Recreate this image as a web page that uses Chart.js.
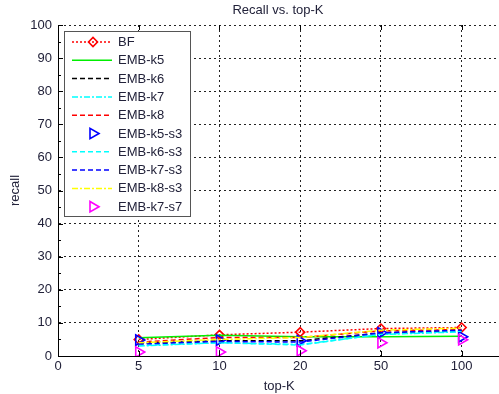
<!DOCTYPE html>
<html>
<head>
<meta charset="utf-8">
<script src="https://cdn.jsdelivr.net/npm/chart.js@4.4.1/dist/chart.umd.min.js"></script>
<style>
  html, body { margin: 0; padding: 0; background: #fff; overflow: hidden; }
  #wrap { width: 499px; height: 394px; overflow: hidden; }
</style>
</head>
<body>
<div id="wrap"><canvas id="c" width="508" height="394"></canvas></div>
<script>
// top-K values placed at evenly spaced positions 0..5
const topK = ['0', '5', '10', '20', '50', '100'];
const yTicks = [0, 10, 20, 30, 40, 50, 60, 70, 80, 90, 100];

// recall (%) at top-K = 5, 10, 20, 50, 100
const bf       = [5.0, 6.4, 7.2, 8.3, 8.6];
const embK5    = [5.5, 6.3, 5.8, 5.8, 6.0];
const embK6    = [3.8, 4.6, 4.6, 7.0, 7.7];
const embK7    = [3.0, 4.0, 3.5, 6.5, 7.3];
const embK8    = [4.2, 5.6, 5.6, 7.6, 8.0];
const embK5s3  = [4.8, 4.8, 4.6, 7.0, 5.8];
const embK6s3  = [3.2, 4.0, 3.3, 6.6, 7.5];
const embK7s3  = [3.6, 4.4, 4.2, 7.0, 7.8];
const embK8s3  = [4.0, 5.0, 5.6, 7.8, 8.4];
const embK7s7  = [1.2, 1.2, 1.6, 4.0, 4.9];

const seriesNames = ['BF', 'EMB-k5', 'EMB-k6', 'EMB-k7', 'EMB-k8',
  'EMB-k5-s3', 'EMB-k6-s3', 'EMB-k7-s3', 'EMB-k8-s3', 'EMB-k7-s7'];
const seriesValues = [bf, embK5, embK6, embK7, embK8, embK5s3, embK6s3, embK7s3, embK8s3, embK7s7];

const styles = [
  { color: '#ff0000', dash: [2, 2], marker: 'rectRot', line: true },
  { color: '#00ee00', dash: [], marker: false, line: true },
  { color: '#000000', dash: [5, 3], marker: false, line: true },
  { color: '#00ffff', dash: [6, 2, 2, 2], marker: false, line: true },
  { color: '#ff0000', dash: [5, 3], marker: false, line: true },
  { color: '#0000ff', dash: [], marker: 'triangle', line: false },
  { color: '#00ffff', dash: [5, 3], marker: false, line: true },
  { color: '#0000ff', dash: [5, 3], marker: false, line: true },
  { color: '#ffff00', dash: [6, 2, 2, 2], marker: false, line: true },
  { color: '#ff00ff', dash: [], marker: 'triangle', line: false }
];

const n = seriesNames.length;
const datasets = seriesNames.map((name, i) => {
  const s = styles[i];
  return {
    label: name,
    data: seriesValues[i].map((v, j) => ({ x: j + 1, y: v })),
    borderColor: s.color,
    backgroundColor: 'rgba(0,0,0,0)',
    borderWidth: 1.5,
    borderDash: s.dash,
    showLine: s.line,
    pointStyle: s.marker || 'circle',
    pointRadius: s.marker ? (s.marker === 'triangle' ? 6 : 4.5) : 0,
    pointRotation: s.marker === 'triangle' ? 90 : 0,
    pointBorderColor: s.color,
    pointBackgroundColor: 'rgba(0,0,0,0)',
    pointBorderWidth: 1.6,
    tension: 0,
    order: n - i
  };
});

const textColor = '#22223a';
const fontFamily = 'Arial, "Liberation Sans", Helvetica, sans-serif';

// title, inward ticks and the boxed legend
const decor = {
  id: 'decor',
  afterDraw(chart) {
    const ctx = chart.ctx;
    const a = chart.chartArea;
    const xs = chart.scales.x, ys = chart.scales.y;
    ctx.save();
    // title
    ctx.fillStyle = textColor;
    ctx.font = '13px ' + fontFamily;
    ctx.textAlign = 'center';
    ctx.textBaseline = 'middle';
    ctx.fillText('Recall vs. top-K', 278, 10);

    // inward tick marks
    ctx.strokeStyle = '#000';
    ctx.lineWidth = 1;
    ctx.setLineDash([]);
    ctx.beginPath();
    topK.forEach((_, i) => {
      const px = Math.round(xs.getPixelForValue(i)) + 0.5;
      ctx.moveTo(px, a.bottom); ctx.lineTo(px, a.bottom - 5);
      ctx.moveTo(px, a.top); ctx.lineTo(px, a.top + 5);
    });
    for (let v = 0; v <= 100; v += 5) {
      const py = Math.round(ys.getPixelForValue(v)) + 0.5;
      const len = v % 10 === 0 ? 5 : 3;
      ctx.moveTo(a.left, py); ctx.lineTo(a.left + len, py);
    }
    ctx.stroke();

    // legend
    const bx = 64.5, by = 31.5, bw = 126, bh = 185;
    ctx.fillStyle = '#fff';
    ctx.fillRect(bx, by, bw, bh);
    ctx.strokeStyle = '#555';
    ctx.lineWidth = 1;
    ctx.strokeRect(bx, by, bw, bh);
    ctx.font = '13px ' + fontFamily;
    ctx.textAlign = 'left';
    ctx.textBaseline = 'middle';
    seriesNames.forEach((name, i) => {
      const s = styles[i];
      const y = 42 + i * 18.3;
      if (s.line) {
        ctx.save();
        ctx.strokeStyle = s.color;
        ctx.lineWidth = 1.5;
        ctx.setLineDash(s.dash);
        ctx.beginPath();
        ctx.moveTo(72, y); ctx.lineTo(112, y);
        ctx.stroke();
        ctx.restore();
      }
      if (s.marker) {
        ctx.save();
        ctx.strokeStyle = s.color;
        ctx.fillStyle = 'rgba(0,0,0,0)';
        ctx.lineWidth = 1.6;
        ctx.setLineDash([]);
        Chart.helpers.drawPoint(ctx, {
          pointStyle: s.marker,
          radius: s.marker === 'triangle' ? 6 : 4.5,
          rotation: s.marker === 'triangle' ? 90 : 0,
          borderWidth: 1.6
        }, 93, y);
        ctx.restore();
      }
      ctx.fillStyle = textColor;
      ctx.fillText(name, 118, y + 0.5);
    });
    ctx.restore();
  }
};

new Chart(document.getElementById('c'), {
  type: 'line',
  data: { datasets },
  options: {
    responsive: false,
    animation: false,
    devicePixelRatio: 1,
    layout: { padding: { top: 25, right: 2, left: 0, bottom: 0 } },
    plugins: { legend: { display: false }, tooltip: { enabled: false }, title: { display: false } },
    scales: {
      x: {
        type: 'linear',
        min: 0,
        max: 5.48,
        afterBuildTicks: (scale) => { scale.ticks = topK.map((_, i) => ({ value: i })); },
        afterFit: (scale) => { scale.height = 38; },
        ticks: {
          autoSkip: false,
          maxRotation: 0,
          padding: 3,
          color: textColor,
          font: { family: fontFamily, size: 13 },
          callback: (v) => topK[v]
        },
        grid: { color: '#222', lineWidth: 1, drawTicks: false },
        border: { display: true, color: '#000', width: 1, dash: [2, 3] },
        title: { display: true, text: 'top-K', color: textColor, font: { family: fontFamily, size: 13 }, padding: { top: 0, bottom: 0 } }
      },
      y: {
        type: 'linear',
        min: 0,
        max: 100,
        afterBuildTicks: (scale) => { scale.ticks = yTicks.map(v => ({ value: v })); },
        afterFit: (scale) => { scale.width = 58; },
        ticks: {
          padding: 6,
          color: textColor,
          font: { family: fontFamily, size: 13 }
        },
        grid: { color: '#222', lineWidth: 1, drawTicks: false },
        border: { display: true, color: '#000', width: 1, dash: [2, 3] },
        title: { display: true, text: 'recall', color: textColor, font: { family: fontFamily, size: 13 }, padding: { top: 8, bottom: 0 } }
      }
    }
  },
  plugins: [decor]
});
</script>
</body>
</html>
